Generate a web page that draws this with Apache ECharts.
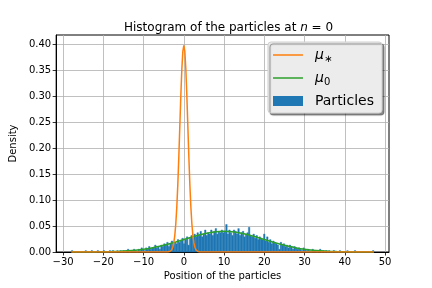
<!DOCTYPE html>
<html>
<head>
<meta charset="utf-8">
<script src="https://cdn.jsdelivr.net/npm/echarts@6/dist/echarts.min.js"></script>
<style>html,body{margin:0;padding:0;background:#fff}#c{width:432px;height:288px}</style>
</head>
<body>
<div id="c"></div>
<script>
// ---- data ----
const binStart = -27.95;
const binWidth = 0.376;
const counts = [
  1,0,0,0,0,0,0,0,0,1, 0,0,0,1,0,0,0,1,0,0,
  0,1,0,0,0,1,0,1,0,0, 1,0,1,0,1,0,1,2,0,1,
  1,2,1,0,2,1,3,2,1,3, 2,4,2,3,3,5,3,4,2,5,
  4,6,5,7,4,6,8,5,7,6, 9,7,8,10,6,9,11,5,10,12,
  10,13,11,14,12,15,11,13,16,12, 14,13,16,12,15,17,13,15,14,16,
  14,15,20,13,16,14,12,16,15,13, 17,12,14,15,11,13,14,18,12,11,
  13,10,12,9,11,10,9,13,8,11, 7,9,6,8,7,6,5,2,7,5,
  6,4,5,3,5,4,2,4,3,2, 3,2,1,3,2,1,2,1,0,2,
  1,1,0,1,2,0,1,0,1,0, 1,0,0,1,0,0,0,1,0,0,
  0,0,1,0,0,0,0,1,0,0, 0,0,0,0,0,0,0,0,0,1
];
const muStarX = [-27.95,-4,-3.5,-3,-2.75,-2.5,-2.25,-2,-1.75,-1.5,-1.25,-1,-0.75,-0.5,-0.25,0,0.25,0.5,0.75,1,1.25,1.5,1.75,2,2.25,2.5,2.75,3,3.5,4,47.25];
const muStarY = [0,0.0001,0.0009,0.0044,0.0091,0.0175,0.0317,0.054,0.0863,0.1295,0.1826,0.242,0.3011,0.3521,0.3867,0.3989,0.3867,0.3521,0.3011,0.242,0.1826,0.1295,0.0863,0.054,0.0317,0.0175,0.0091,0.0044,0.0009,0.0001,0];
const mu0X = [-27.95,-26,-24,-22,-20,-18,-16,-14,-12,-10,-8,-6,-4,-2,0,2,4,6,8,10,12,14,16,18,20,22,24,26,28,30,32,34,36,38,40,42,44,46,47.25];
const mu0Y = [0.00003,0.00006,0.00012,0.00024,0.00044,0.00079,0.00136,0.00224,0.00355,0.0054,0.0079,0.01109,0.01497,0.01942,0.0242,0.02897,0.03334,0.03683,0.0391,0.03989,0.0391,0.03683,0.03334,0.02897,0.0242,0.01942,0.01497,0.01109,0.0079,0.0054,0.00355,0.00224,0.00136,0.00079,0.00044,0.00024,0.00012,0.00006,0.00004];
const xTicks = [-30,-20,-10,0,10,20,30,40,50];
const yTicks = [0,0.05,0.10,0.15,0.20,0.25,0.30,0.35,0.40];

// ---- build ----
const total = counts.reduce((a,b)=>a+b,0);
const histData = counts.map((c,i)=>[binStart+i*binWidth, binStart+(i+1)*binWidth, c/(total*binWidth)]);
const muStar = muStarX.map((x,i)=>[x,muStarY[i]]);
const mu0 = mu0X.map((x,i)=>[x,mu0Y[i]]);
const minus = v => (v<0 ? '\u2212'+(-v) : String(v));
const FONT = 'DejaVu Sans';

const chart = echarts.init(document.getElementById('c'), null, {renderer:'canvas'});
chart.setOption({
  animation:false,
  backgroundColor:'#fff',
  textStyle:{fontFamily:FONT},
  title:{
    text:'{a|Histogram of the particles at }{i|n}{a| = 0}',
    left:119, top:17,
    textStyle:{fontWeight:'normal',rich:{a:{fontFamily:FONT,fontSize:12,fontWeight:'normal',color:'#000'},i:{fontFamily:FONT,fontSize:12,fontWeight:'normal',fontStyle:'italic',color:'#000'}}}
  },
  grid:{left:54,right:43,top:35,bottom:36,show:true,borderColor:'#000',borderWidth:1,backgroundColor:'transparent'},
  legend:{
    orient:'vertical', right:50, top:42,
    padding:[6,8,5,5], itemGap:7, itemWidth:30, itemHeight:10,
    backgroundColor:'#ececec', borderColor:'#d0d0d0', borderWidth:1, borderRadius:3,
    shadowColor:'rgba(0,0,0,0.45)', shadowBlur:1, shadowOffsetX:2, shadowOffsetY:2,
    data:[
      {name:'μ*', icon:'path://M0,0 H30 V1.5 H0 Z'},
      {name:'μ0', icon:'path://M0,0 H30 V1.5 H0 Z'},
      {name:'Particles', icon:'rect'}
    ],
    formatter: n => n==='μ*' ? '{m|μ}{s|∗}' : (n==='μ0' ? '{m|μ}{s|0}' : '{t|Particles}'),
    textStyle:{padding:[0,0,0,7],rich:{
      m:{fontFamily:FONT,fontSize:14,fontStyle:'italic',color:'#000',lineHeight:18},
      s:{fontFamily:FONT,fontSize:10,color:'#000',verticalAlign:'bottom',lineHeight:12},
      t:{fontFamily:FONT,fontSize:14,color:'#000',lineHeight:18}
    }}
  },
  xAxis:{
    type:'value', min:-31.73, max:50.99, interval:10,
    name:'Position of the particles', nameLocation:'middle', nameGap:18,
    nameTextStyle:{fontFamily:FONT,fontSize:10,color:'#000'},
    axisLine:{show:true,onZero:false,lineStyle:{color:'#000',width:1}},
    axisTick:{show:true,length:3.5,lineStyle:{color:'#000',width:0.8},customValues:xTicks},
    axisLabel:{fontFamily:FONT,fontSize:10,color:'#000',margin:5,formatter:minus,customValues:xTicks},
    splitLine:{show:true,lineStyle:{color:'#b0b0b0',width:0.8}}
  },
  yAxis:{
    type:'value', min:0, max:0.4188, interval:0.05,
    name:'Density', nameLocation:'middle', nameGap:31,
    nameTextStyle:{fontFamily:FONT,fontSize:10,color:'#000'},
    axisLine:{show:true,onZero:false,lineStyle:{color:'#000',width:1}},
    axisTick:{show:true,length:3.5,lineStyle:{color:'#000',width:0.8},customValues:yTicks},
    axisLabel:{fontFamily:FONT,fontSize:10,color:'#000',margin:5,formatter:v=>v.toFixed(2),customValues:yTicks},
    splitLine:{show:true,lineStyle:{color:'#b0b0b0',width:0.8}}
  },
  series:[
    {
      name:'Particles', type:'custom', data:histData, z:1,
      itemStyle:{color:'#1f77b4'},
      encode:{x:[0,1],y:2},
      renderItem:(params,api)=>{
        const p0 = api.coord([api.value(0), api.value(2)]);
        const p1 = api.coord([api.value(1), 0]);
        return {type:'rect', shape:{x:p0[0], y:p0[1], width:p1[0]-p0[0], height:p1[1]-p0[1]}, style:{fill:'#1f77b4',stroke:'#1f77b4',lineWidth:0.4}};
      }
    },
    {name:'μ0', type:'line', data:mu0, showSymbol:false, z:3, smooth:0.3, color:'#2ca02c', lineStyle:{color:'#2ca02c',width:1.5}},
    {name:'μ*', type:'line', data:muStar, showSymbol:false, z:4, color:'#ff7f0e', lineStyle:{color:'#ff7f0e',width:1.5}}
  ]
});
</script>
</body>
</html>
